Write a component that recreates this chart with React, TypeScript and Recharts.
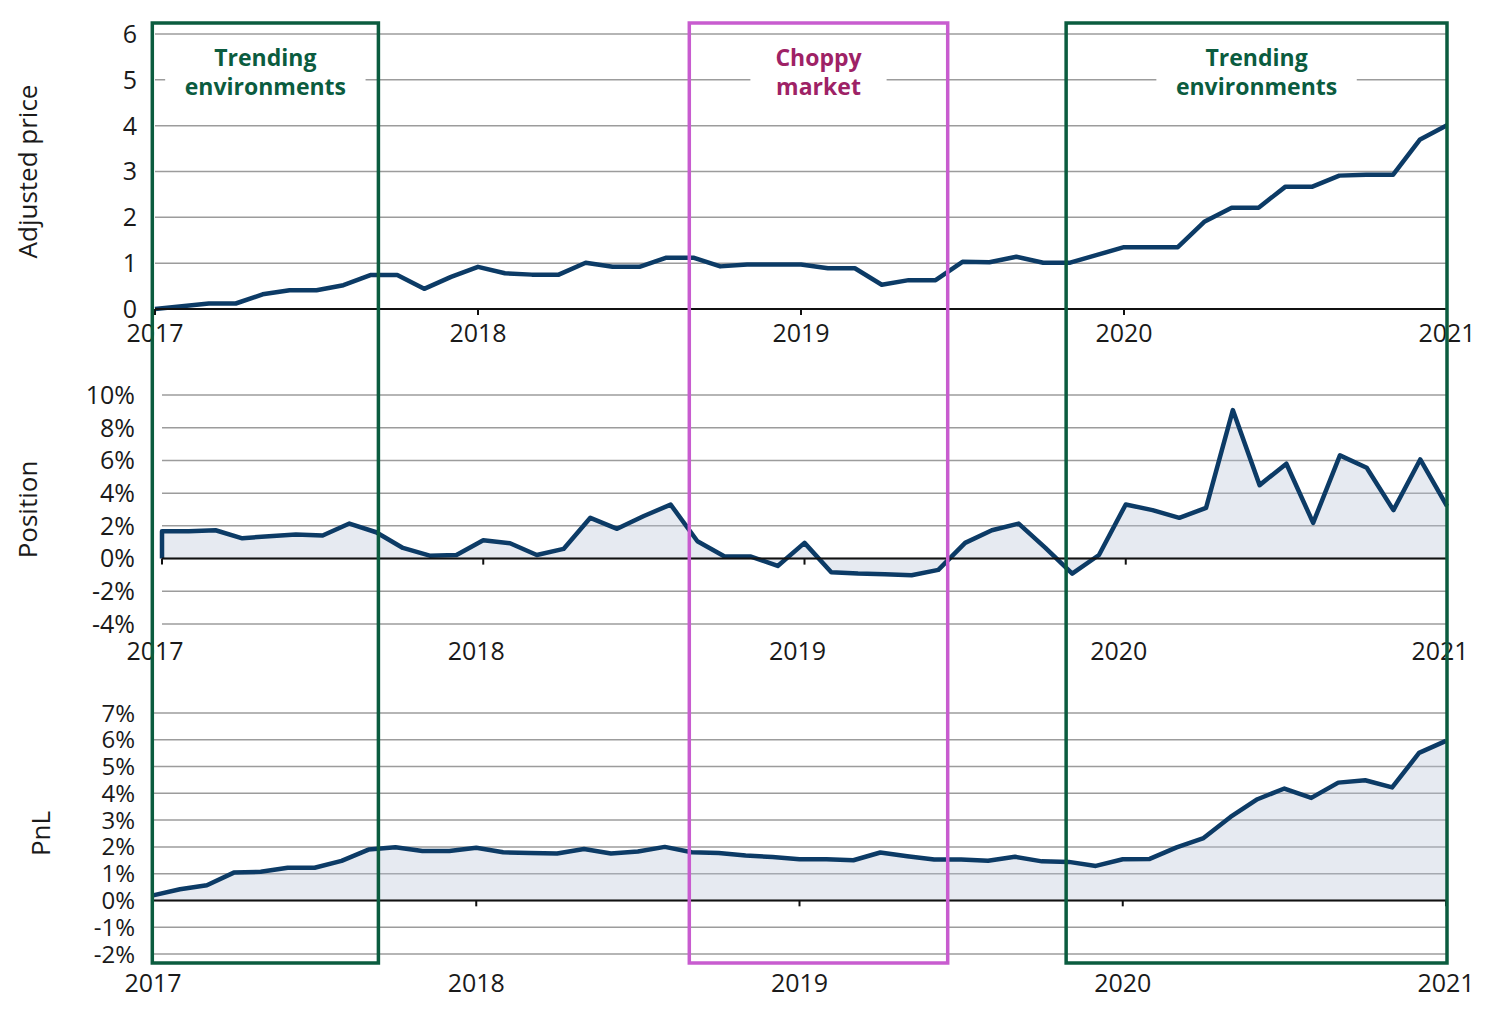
import React from "react";
import {
  Area,
  AreaChart,
  CartesianGrid,
  Line,
  LineChart,
  ReferenceArea,
  ReferenceLine,
  XAxis,
  YAxis,
} from "recharts";

const FONT = "'Open Sans', 'Noto Sans', sans-serif";
const navy = "#0c3b66";
const gridGrey = "#9c9c9c";

// x is months counted from Jan 2017
const yearTicks = [0, 12, 24, 36, 48];
const yearLabels = ["2017", "2018", "2019", "2020", "2021"];

// monthly values
const price = [
  0.0, 0.06, 0.12, 0.12, 0.32, 0.41, 0.41, 0.52, 0.74, 0.74, 0.44, 0.7,
  0.92, 0.78, 0.75, 0.75, 1.01, 0.92, 0.92, 1.12, 1.12, 0.93, 0.97, 0.97,
  0.97, 0.89, 0.89, 0.53, 0.63, 0.63, 1.03, 1.02, 1.14, 1.01, 1.01, 1.18,
  1.35, 1.35, 1.35, 1.91, 2.21, 2.21, 2.67, 2.67, 2.91, 2.93, 2.93, 3.7, 4.01,
];

const position = [
  1.67, 1.67, 1.73, 1.24, 1.37, 1.47, 1.41, 2.14, 1.61, 0.65, 0.18, 0.22,
  1.12, 0.94, 0.22, 0.59, 2.49, 1.82, 2.6, 3.3, 1.06, 0.14, 0.12, -0.45,
  0.96, -0.84, -0.92, -0.96, -1.02, -0.69, 0.96, 1.73, 2.14, 0.65, -0.92, 0.22,
  3.31, 2.96, 2.49, 3.1, 9.08, 4.49, 5.8, 2.18, 6.31, 5.55, 2.96, 6.06, 3.2,
];

const pnl = [
  0.19, 0.42, 0.57, 1.04, 1.07, 1.22, 1.22, 1.48, 1.9, 1.99, 1.85, 1.85,
  1.97, 1.8, 1.77, 1.75, 1.92, 1.75, 1.83, 2.0, 1.8, 1.77, 1.68, 1.62,
  1.54, 1.54, 1.5, 1.79, 1.65, 1.53, 1.53, 1.48, 1.63, 1.46, 1.44, 1.29,
  1.54, 1.55, 1.98, 2.33, 3.12, 3.78, 4.18, 3.83, 4.4, 4.49, 4.22, 5.51, 5.96,
];

const priceTicks = [0, 1, 2, 3, 4, 5, 6];
const positionTicks = [-4, -2, 0, 2, 4, 6, 8, 10];
const pnlTicks = [-2, -1, 0, 1, 2, 3, 4, 5, 6, 7];

// highlighted regimes (months from Jan 2017)
const regionLines = [
  ["Trending", "environments"],
  ["Choppy", "market"],
  ["Trending", "environments"],
];
const regionStart = [-0.1, 19.85, 33.85];
const regionEnd = [8.3, 29.45, 48];
const regionKind = ["trend", "choppy", "trend"];

const regionStroke: Record<string, string> = { trend: "#0b5c3f", choppy: "#c85ccf" };
const regionText: Record<string, string> = { trend: "#0b5c3f", choppy: "#9e2266" };

const priceData = price.map((v, i) => ({ t: i, price: v }));
// position starts flat before the first signal
const positionData = [{ t: 0, position: 0 }, ...position.map((v, i) => ({ t: i, position: v }))];
const pnlData = pnl.map((v, i) => ({ t: i, pnl: v }));
// corners of the overlay frame that carries the regime boxes
const frameData = [
  { t: 0, frame: 0 },
  { t: 48, frame: 1 },
];

const tickStyle = { fill: "#1a1a1a", fontSize: 25, fontFamily: FONT };
const smallTickStyle = { ...tickStyle, fontSize: 24 };
const yearFormat = (t: number) => yearLabels[yearTicks.indexOf(t)] ?? "";

function axisTitle(text: string, dx: number) {
  return (props: any) => {
    const vb = props.viewBox ?? {};
    const x = (vb.x ?? 0) + dx;
    const y = (vb.y ?? 0) + (vb.height ?? 0) / 2;
    return (
      <text
        x={x}
        y={y}
        transform={`rotate(-90 ${x} ${y})`}
        textAnchor="middle"
        dominantBaseline="central"
        fill="#1a1a1a"
        fontSize={26}
        fontFamily={FONT}
      >
        {text}
      </text>
    );
  };
}

function regionLabel(lines: string[], color: string) {
  return (props: any) => {
    const { x, y, width } = props.viewBox;
    const cx = x + width / 2;
    const longest = Math.max(...lines.map((l) => l.length));
    const maskW = longest * 10.7 + 72;
    return (
      <g>
        <rect x={cx - maskW / 2} y={y + 17} width={maskW} height={62} fill="#fff" />
        {lines.map((line, i) => (
          <text
            key={line}
            x={cx}
            y={y + 43 + i * 29}
            textAnchor="middle"
            fill={color}
            fontSize={23}
            fontWeight={700}
            fontFamily={FONT}
          >
            {line}
          </text>
        ))}
      </g>
    );
  };
}

function zeroTicks(len: number) {
  return yearTicks.map((t) => (
    <ReferenceLine
      key={`zt-${t}`}
      segment={[
        { x: t, y: 0 },
        { x: t, y: -len },
      ]}
      stroke="#111"
      strokeWidth={2}
      ifOverflow="visible"
    />
  ));
}

export default function App() {
  return (
    <div style={{ position: "absolute", left: 0, top: 0, width: 1500, height: 1012, background: "#fff" }}>
      <div style={{ position: "absolute", left: 0, top: 0 }}>
        <LineChart width={1500} height={350} data={priceData} margin={{ top: 34, right: 53, left: 0, bottom: 0 }}>
          <CartesianGrid vertical={false} stroke={gridGrey} strokeWidth={1.5} />
          <XAxis
            dataKey="t"
            type="number"
            domain={[0, 48]}
            ticks={yearTicks}
            tickFormatter={yearFormat}
            height={41}
            tick={tickStyle}
            tickSize={6}
            tickMargin={9}
            axisLine={{ stroke: "#111", strokeWidth: 2 }}
            tickLine={{ stroke: "#111", strokeWidth: 2 }}
            interval={0}
          />
          <YAxis
            domain={[0, 6]}
            ticks={priceTicks}
            interval={0}
            width={155}
            tick={tickStyle}
            tickSize={0}
            tickMargin={18}
            axisLine={false}
            tickLine={false}
            label={{ content: axisTitle("Adjusted price", 27) }}
          />
          <Line
            dataKey="price"
            type="linear"
            stroke={navy}
            strokeWidth={4.5}
            strokeLinejoin="round"
            dot={false}
            isAnimationActive={false}
          />
        </LineChart>
      </div>

      <div style={{ position: "absolute", left: 0, top: 360 }}>
        <AreaChart width={1500} height={320} data={positionData} margin={{ top: 35, right: 53, left: 0, bottom: 0 }}>
          <CartesianGrid vertical={false} stroke={gridGrey} strokeWidth={1.5} />
          <XAxis
            dataKey="t"
            type="number"
            domain={[0, 48]}
            ticks={yearTicks}
            tickFormatter={yearFormat}
            height={56}
            tick={{ ...tickStyle, dx: -7 }}
            tickSize={0}
            tickMargin={18}
            axisLine={false}
            tickLine={false}
            interval={0}
          />
          <YAxis
            domain={[-4, 10]}
            ticks={positionTicks}
            interval={0}
            tickFormatter={(v: number) => `${v}%`}
            width={162}
            tick={tickStyle}
            tickSize={0}
            tickMargin={27}
            axisLine={false}
            tickLine={false}
            label={{ content: axisTitle("Position", 27) }}
          />
          <ReferenceLine y={0} stroke="#111" strokeWidth={2} />
          {zeroTicks(0.37)}
          <Area
            dataKey="position"
            type="linear"
            baseValue={0}
            stroke={navy}
            strokeWidth={4.5}
            strokeLinejoin="round"
            fill="#b8c4d8"
            fillOpacity={0.35}
            dot={false}
            isAnimationActive={false}
          />
        </AreaChart>
      </div>

      <div style={{ position: "absolute", left: 0, top: 690 }}>
        <AreaChart width={1500} height={322} data={pnlData} margin={{ top: 23, right: 54, left: 0, bottom: 0 }}>
          <CartesianGrid vertical={false} stroke={gridGrey} strokeWidth={1.5} />
          <XAxis
            dataKey="t"
            type="number"
            domain={[0, 48]}
            ticks={yearTicks}
            tickFormatter={yearFormat}
            height={58}
            tick={tickStyle}
            tickSize={0}
            tickMargin={20}
            axisLine={false}
            tickLine={false}
            interval={0}
          />
          <YAxis
            domain={[-2, 7]}
            ticks={pnlTicks}
            interval={0}
            tickFormatter={(v: number) => `${v}%`}
            width={153}
            tick={smallTickStyle}
            tickSize={0}
            tickMargin={18}
            axisLine={false}
            tickLine={false}
            label={{ content: axisTitle("PnL", 40) }}
          />
          <ReferenceLine y={0} stroke="#111" strokeWidth={2} />
          {zeroTicks(0.22)}
          <Area
            dataKey="pnl"
            type="linear"
            baseValue={0}
            stroke={navy}
            strokeWidth={4.5}
            strokeLinejoin="round"
            fill="#b8c4d8"
            fillOpacity={0.35}
            dot={false}
            isAnimationActive={false}
          />
        </AreaChart>
      </div>

      {/* regime boxes spanning all three panels */}
      <div style={{ position: "absolute", left: 0, top: 0, pointerEvents: "none" }}>
        <LineChart width={1500} height={1012} data={frameData} margin={{ top: 23, right: 53, left: 155, bottom: 49 }}>
          <XAxis dataKey="t" type="number" domain={[0, 48]} hide />
          <YAxis domain={[0, 1]} hide />
          <Line dataKey="frame" stroke="none" dot={false} activeDot={false} isAnimationActive={false} />
          {regionStart.map((x1, i) => (
            <ReferenceArea
              key={`region-${i}`}
              x1={x1}
              x2={regionEnd[i]}
              y1={0}
              y2={1}
              ifOverflow="visible"
              fill="#ffffff"
              fillOpacity={0}
              stroke={regionStroke[regionKind[i]]}
              strokeWidth={3.5}
              strokeOpacity={1}
              label={regionLabel(regionLines[i], regionText[regionKind[i]])}
            />
          ))}
        </LineChart>
      </div>
    </div>
  );
}
